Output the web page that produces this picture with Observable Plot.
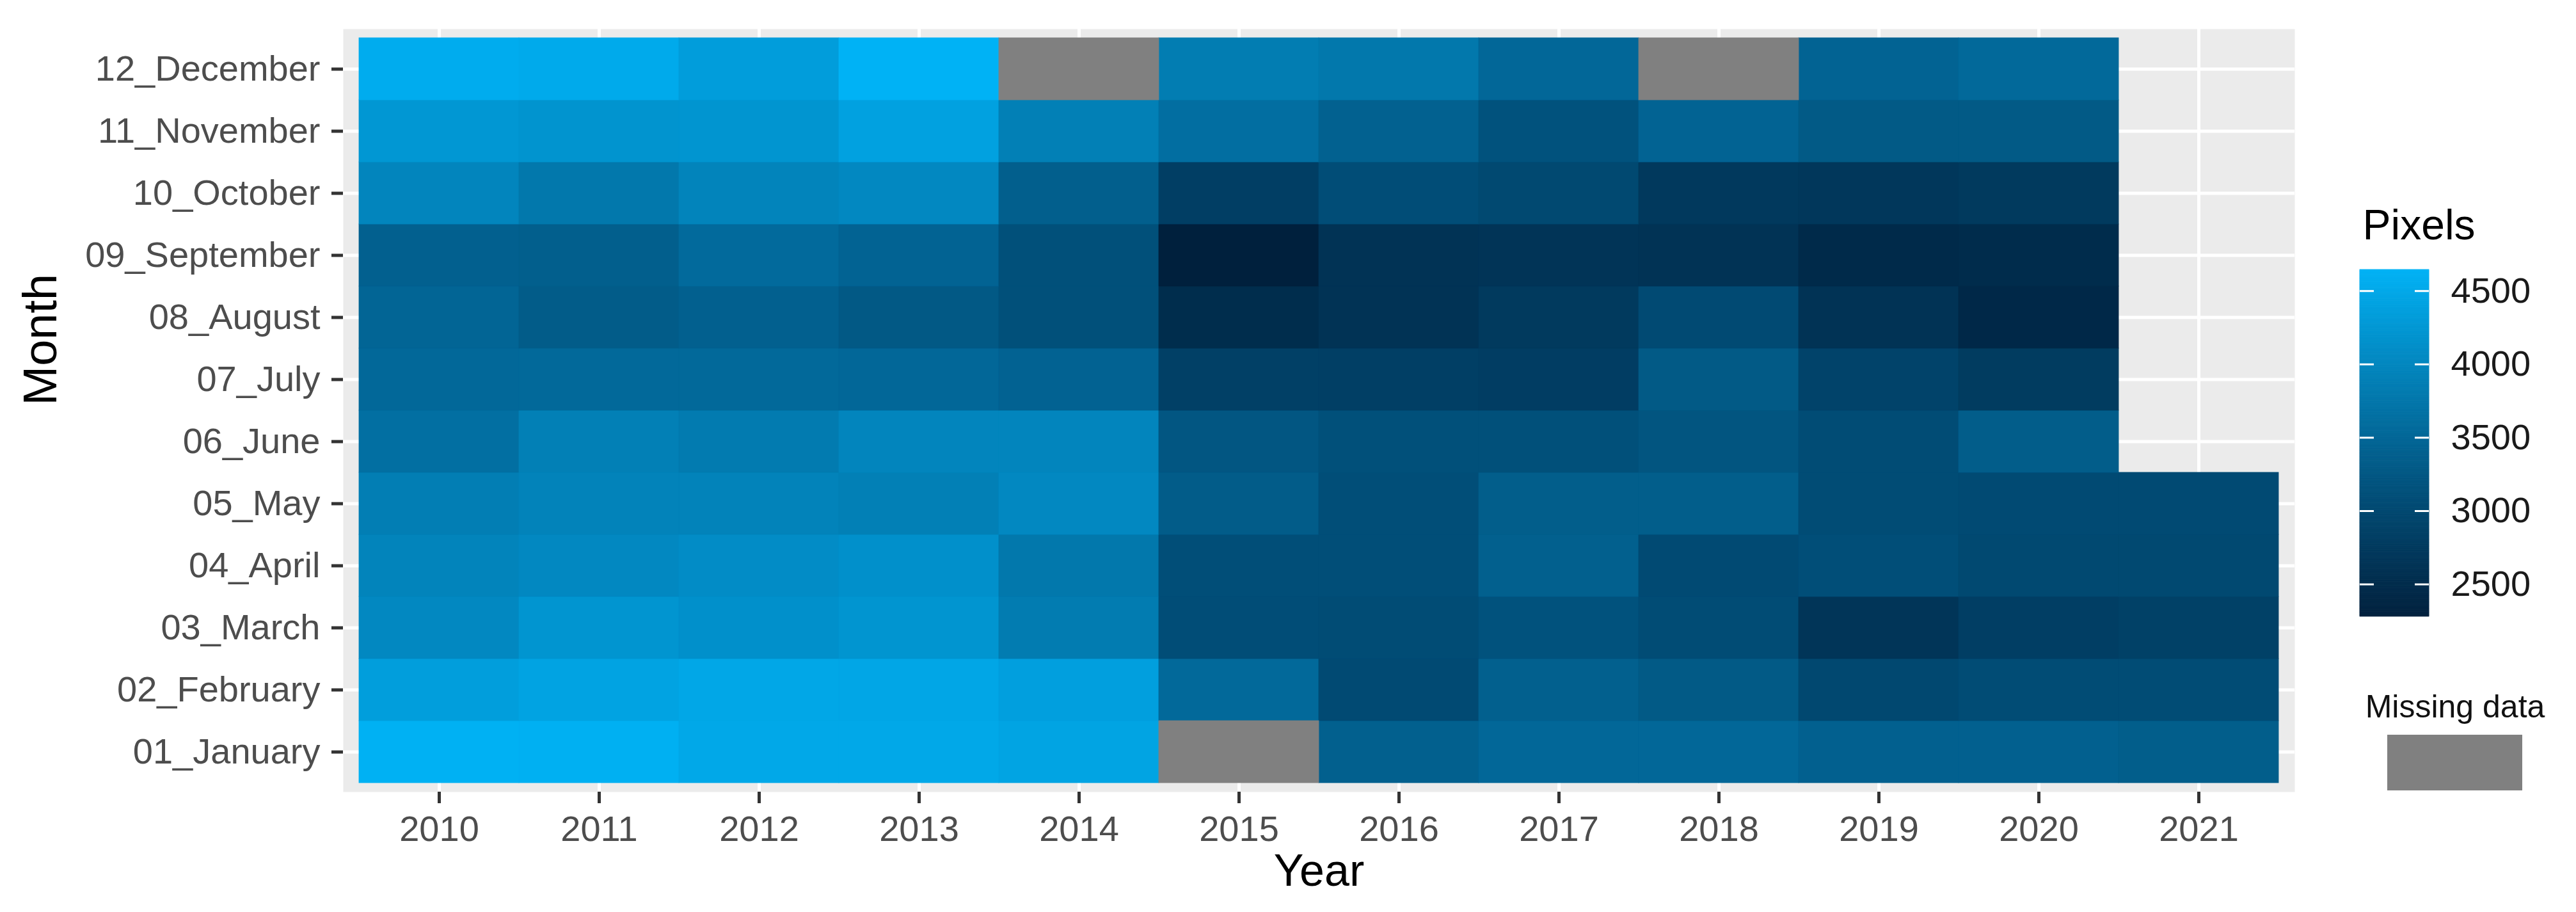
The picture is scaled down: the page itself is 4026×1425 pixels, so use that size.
<!DOCTYPE html>
<html>
<head>
<meta charset="utf-8">
<script src="https://cdn.jsdelivr.net/npm/d3@7"></script>
<script src="https://cdn.jsdelivr.net/npm/@observablehq/plot@0.6"></script>
<style>
  html, body { margin: 0; padding: 0; background: white; }
  #wrap { position: relative; width: 4026px; height: 1425px; overflow: hidden; background: white; }
  #wrap svg { display: block; }
  .abs { position: absolute; }
</style>
</head>
<body>
<div id="wrap"></div>
<script>
// ---- data (null = missing data, shorter arrays = no data yet) ----
const years = ["2010","2011","2012","2013","2014","2015","2016","2017","2018","2019","2020","2021"];
const months = ["01_January","02_February","03_March","04_April","05_May","06_June",
                "07_July","08_August","09_September","10_October","11_November","12_December"];
const jan = [4626, 4610, 4499, 4499, 4436, null, 3388, 3515, 3515, 3404, 3404, 3356];
const feb = [4356, 4420, 4483, 4467, 4372, 3547, 3039, 3388, 3293, 2991, 3070, 3070];
const mar = [4023, 4213, 4150, 4213, 3833, 3087, 3070, 3166, 3070, 2674, 2833, 2880];
const apr = [3959, 4023, 4086, 4150, 3769, 3102, 3102, 3388, 3039, 3102, 3007, 3007];
const may = [3864, 3944, 3944, 3896, 4023, 3325, 3102, 3356, 3356, 3070, 3039, 3039];
const jun = [3642, 3896, 3817, 3975, 3975, 3229, 3134, 3134, 3213, 3070, 3340];
const jul = [3531, 3547, 3547, 3515, 3436, 2864, 2848, 2817, 3293, 2912, 2785];
const aug = [3483, 3325, 3404, 3277, 3134, 2515, 2626, 2753, 3039, 2626, 2436];
const sep = [3404, 3372, 3563, 3451, 3134, 2280, 2626, 2658, 2626, 2467, 2499];
const oct = [3975, 3769, 3959, 4023, 3372, 2833, 3087, 3007, 2737, 2706, 2753];
const nov = [4245, 4198, 4213, 4404, 3896, 3626, 3420, 3166, 3451, 3293, 3293];
const dec = [4563, 4531, 4340, 4645, null, 3848, 3769, 3515, null, 3451, 3547];
const legendTicks = [2500, 3000, 3500, 4000, 4500];
const missingLabel = ["Missing data"];

// ---- build table ----
const rows = [jan, feb, mar, apr, may, jun, jul, aug, sep, oct, nov, dec];
const table = [];
rows.forEach((vals, i) => vals.forEach((v, j) => table.push({month: months[i], year: years[j], value: v})));
const present = table.filter(d => d.value !== null);
const missing = table.filter(d => d.value === null);
const extent = d3.extent(present, d => d.value);

const FONT = "'Liberation Sans', Arial, sans-serif";
const colorScale = {type: "linear", domain: extent, range: ["#00203D", "#00B2F5"], interpolate: "lab"};

const W = 4026, H = 1425;
const main = Plot.plot({
  width: W, height: H,
  marginLeft: 536, marginRight: W - 3586, marginTop: 45, marginBottom: H - 1237,
  style: {fontFamily: FONT, background: "white", color: "black"},
  x: {type: "band", domain: years, paddingInner: 0, paddingOuter: 0.1},
  y: {type: "band", domain: months.slice().reverse(), paddingInner: 0, paddingOuter: 0.1},
  color: colorScale,
  marks: [
    Plot.frame({fill: "#EBEBEB", stroke: "none"}),
    Plot.gridX({stroke: "white", strokeWidth: 5, strokeOpacity: 1}),
    Plot.gridY({stroke: "white", strokeWidth: 5, strokeOpacity: 1}),
    Plot.cell(present, {x: "year", y: "month", fill: "value", stroke: "value", strokeWidth: 0.8, inset: 0}),
    Plot.cell(missing, {x: "year", y: "month", fill: "#808080", stroke: "#808080", strokeWidth: 0.8, inset: 0}),
    Plot.axisX({tickSize: 18, tickPadding: 19, fontSize: 56, stroke: "#333333", strokeWidth: 5, fill: "#4D4D4D", label: null}),
    Plot.axisY({tickSize: 18, tickPadding: 18, fontSize: 56, stroke: "#333333", strokeWidth: 5, fill: "#4D4D4D", label: null}),
    Plot.text(["Year"], {text: d => d, frameAnchor: "bottom", lineAnchor: "middle", dy: 124, fontSize: 70, fill: "black"}),
    Plot.text(["Month"], {text: d => d, frameAnchor: "left", lineAnchor: "middle", rotate: -90, dx: -472, dy: -8, fontSize: 74, fill: "black"})
  ]
});

// ---- colour bar legend ----
const step = (extent[1] - extent[0]) / 300;
const stops = d3.range(extent[0], extent[1], step).map(a => [a, Math.min(a + step, extent[1])]);
const LW = 420, LH = 720;
const legend = Plot.plot({
  width: LW, height: LH,
  marginLeft: 48, marginRight: LW - 48 - 108, marginTop: 71, marginBottom: LH - 71 - 542,
  style: {fontFamily: FONT, background: "transparent", color: "black", overflow: "visible"},
  y: {domain: extent},
  color: colorScale,
  marks: [
    Plot.rectY(stops, {y1: d => d[0], y2: d => d[1], fill: d => (d[0] + d[1]) / 2, stroke: d => (d[0] + d[1]) / 2, strokeWidth: 0.8}),
    Plot.tickY(legendTicks, {y: d => d, stroke: "white", strokeWidth: 3, insetRight: 86}),
    Plot.tickY(legendTicks, {y: d => d, stroke: "white", strokeWidth: 3, insetLeft: 86}),
    Plot.axisY(legendTicks, {anchor: "right", tickSize: 0, tickPadding: 34, fontSize: 56, fill: "#1A1A1A", label: null, tickFormat: d => String(d)}),
    Plot.text(["Pixels"], {text: d => d, frameAnchor: "top-left", lineAnchor: "middle", textAnchor: "start", dx: 4, dy: -69, fontSize: 66, fill: "black"})
  ]
});

// ---- missing data key ----
const MW = 300, MH = 200;
const miss = Plot.plot({
  width: MW, height: MH,
  marginLeft: 41, marginRight: MW - 41 - 211, marginTop: 88, marginBottom: MH - 88 - 87,
  style: {fontFamily: FONT, background: "transparent", color: "black", overflow: "visible"},
  x: {type: "band", domain: missingLabel, padding: 0, axis: null},
  marks: [
    Plot.cell(missingLabel, {x: d => d, fill: "#808080"}),
    Plot.text(missingLabel, {x: d => d, text: d => d, frameAnchor: "top", lineAnchor: "middle", dy: -44, fontSize: 50, fill: "#111111"})
  ]
});

const wrap = document.getElementById("wrap");
wrap.appendChild(main);
legend.classList.add("abs"); legend.style.left = "3640px"; legend.style.top = "350px";
miss.classList.add("abs"); miss.style.left = "3690px"; miss.style.top = "1060px";
wrap.appendChild(legend);
wrap.appendChild(miss);
</script>
</body>
</html>
